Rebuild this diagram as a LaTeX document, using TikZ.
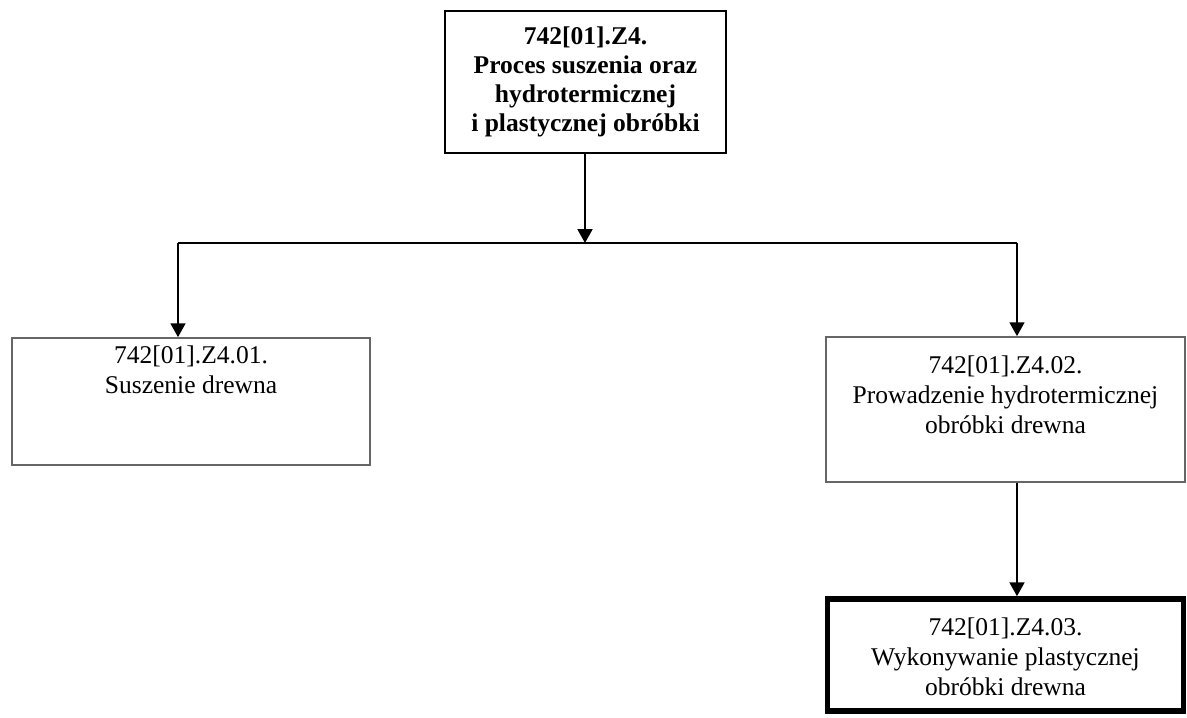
\documentclass[tikz,border=0pt]{standalone}
\usepackage{fontspec}
\setmainfont{Liberation Serif}
\usetikzlibrary{arrows.meta}

\def\px{0.47pt}
\tikzset{
  box/.style={draw, rectangle, inner sep=0pt},
  txt/.style={align=center, inner sep=0pt, font=\fontsize{12}{14}\selectfont},
  arr/.style={-{Triangle[length=6.5pt,width=7pt]}, line width=0.9pt},
}

\begin{document}
\begin{tikzpicture}[x=\px, y=-\px]
    \useasboundingbox (0,0) rectangle (1187,718);

    % modul glowny
    \node[box, txt, font=\fontsize{12}{13.6}\selectfont\bfseries, line width=1.3pt,
          minimum width={281*\px}, minimum height={142*\px}] (head) at (585.5,82)
          {742[01].Z4.\\ Proces suszenia oraz\\ hydrotermicznej\\ i plastycznej obróbki};

    % jednostki
    \node[box, draw=black!60, line width=0.8pt,
          minimum width={358*\px}, minimum height={127*\px}] (task1) at (191,401.5) {};
    \node[txt, anchor=base] (task1txt) at (191,393) {742[01].Z4.01.\\ Suszenie drewna};

    \node[box, draw=black!60, line width=0.8pt,
          minimum width={359*\px}, minimum height={145*\px}] (task2) at (1005.5,409.5) {};
    \node[txt, anchor=base] (task2txt) at (1005.5,433)
          {742[01].Z4.02.\\ Prowadzenie hydrotermicznej\\ obróbki drewna};

    \node[box, line width=2.6pt,
          minimum width={356*\px}, minimum height={112*\px}] (task3) at (1005.5,655) {};
    \node[txt, anchor=base] (task3txt) at (1005.5,695)
          {742[01].Z4.03.\\ Wykonywanie plastycznej\\ obróbki drewna};

    % polaczenia
    \coordinate (split) at (585,243);
    \coordinate (lft) at (178,243);
    \coordinate (rgt) at (1017,243);
    \draw[arr] (head.south -| split) -- (split);
    \draw[line width=0.9pt] (lft) -- (rgt);
    \draw[arr] (lft) -- (lft |- task1.north);
    \draw[arr] (rgt) -- (rgt |- task2.north);
    \draw[arr] (rgt |- task2.south) -- (rgt |- task3.north);

\end{tikzpicture}
\end{document}
